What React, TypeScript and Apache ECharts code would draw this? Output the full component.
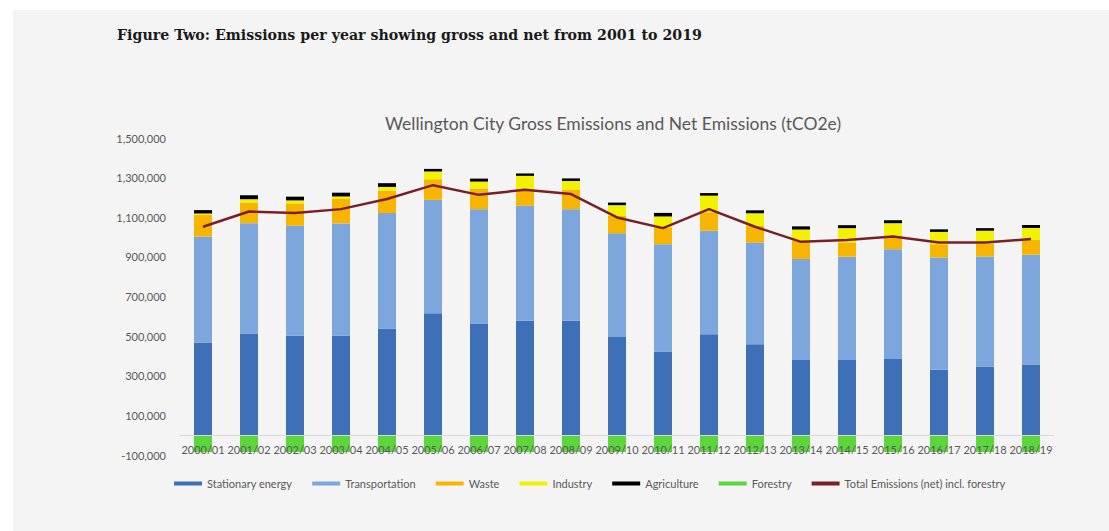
import React, { useEffect, useRef } from "react";
import * as echarts from "echarts";

const categories = ["2000/01", "2001/02", "2002/03", "2003/04", "2004/05", "2005/06", "2006/07", "2007/08", "2008/09", "2009/10", "2010/11", "2011/12", "2012/13", "2013/14", "2014/15", "2015/16", "2016/17", "2017/18", "2018/19"];
const stationary = [468000, 513000, 502000, 502000, 539000, 616000, 564000, 577000, 577000, 496000, 422000, 510000, 459000, 379000, 379000, 384000, 330000, 347000, 357000];
const transportation = [535000, 557000, 555000, 567000, 582000, 572000, 577000, 581000, 564000, 523000, 542000, 522000, 513000, 510000, 522000, 555000, 567000, 555000, 554000];
const waste = [108000, 104000, 113000, 123000, 113000, 104000, 104000, 84000, 98000, 88000, 84000, 93000, 84000, 93000, 72000, 67000, 67000, 66000, 74000];
const industry = [8000, 17000, 15000, 13000, 19000, 39000, 35000, 67000, 44000, 54000, 56000, 84000, 64000, 56000, 72000, 64000, 62000, 64000, 61000];
const agriculture = [17000, 20000, 19000, 19000, 19000, 13000, 15000, 12000, 13000, 13000, 18000, 13000, 15000, 16000, 15000, 15000, 13000, 13000, 15000];
const forestry = [-85000, -85000, -85000, -85000, -85000, -85000, -85000, -85000, -85000, -85000, -85000, -85000, -85000, -85000, -85000, -85000, -85000, -85000, -85000];
const netTotal = [1052000, 1129000, 1121000, 1141000, 1192000, 1262000, 1213000, 1239000, 1217000, 1099000, 1045000, 1141000, 1052000, 976000, 985000, 1003000, 973000, 973000, 990000];

const figureTitle = "Figure Two: Emissions per year showing gross and net from 2001 to 2019";
const chartTitle = "Wellington City Gross Emissions and Net Emissions (tCO2e)";

export default function App() {
  const ref = useRef<HTMLDivElement>(null);
  useEffect(() => {
    document.body.style.margin = "0";
    if (!ref.current) return;
    const chart = echarts.init(ref.current, undefined, { renderer: "svg" });
    const labelColor = "#595959";
    const font = "Lato, 'Open Sans', sans-serif";
    const barBase = { type: "bar", stack: "total", barWidth: 18 };
    chart.setOption({
      animation: false,
      backgroundColor: "#f4f4f4",
      graphic: [
        {
          type: "text",
          x: 104,
          y: 25,
          style: {
            text: figureTitle,
            font: "bold 14.2px 'DejaVu Serif', serif",
            fill: "#1a1a1a",
            textAlign: "left",
            textVerticalAlign: "middle",
          },
        },
        {
          type: "text",
          x: 600,
          y: 113,
          style: {
            text: chartTitle,
            font: "17.5px Lato, 'Open Sans', sans-serif",
            fill: "#595959",
            textAlign: "center",
            textVerticalAlign: "middle",
          },
        },
      ],
      grid: { left: 167, right: 55, top: 128, bottom: 76, containLabel: false },
      legend: {
        left: 156,
        top: 463,
        itemWidth: 28,
        itemHeight: 4,
        itemGap: 20,
        icon: "rect",
        textStyle: { color: labelColor, fontSize: 11, fontFamily: font },
        data: [
          "Stationary energy",
          "Transportation",
          "Waste",
          "Industry",
          "Agriculture",
          "Forestry",
          "Total Emissions (net) incl. forestry",
        ],
      },
      xAxis: {
        type: "category",
        data: categories,
        z: 10,
        axisLine: { onZero: true, lineStyle: { color: "#d9d9d9", width: 1 } },
        axisTick: { show: false },
        axisLabel: { interval: 0, color: labelColor, fontSize: 11, fontFamily: font, margin: -11 },
        splitLine: { show: false },
      },
      yAxis: {
        type: "value",
        min: -100000,
        max: 1500000,
        interval: 100000,
        axisLine: { show: false },
        axisTick: { show: false },
        splitLine: { show: false },
        axisLabel: {
          color: labelColor,
          fontSize: 11,
          fontFamily: font,
          margin: 14,
          formatter: (v: number) =>
            Math.round(v / 100000) % 2 !== 0 ? v.toLocaleString("en-US") : "",
        },
      },
      series: [
        { ...barBase, name: "Stationary energy", data: stationary, itemStyle: { color: "#3d70b7" } },
        { ...barBase, name: "Transportation", data: transportation, itemStyle: { color: "#7ca6dc" } },
        { ...barBase, name: "Waste", data: waste, itemStyle: { color: "#f7b500" } },
        { ...barBase, name: "Industry", data: industry, itemStyle: { color: "#f2f200" } },
        { ...barBase, name: "Agriculture", data: agriculture, itemStyle: { color: "#000000" } },
        { ...barBase, name: "Forestry", data: forestry, itemStyle: { color: "#5cd63c" } },
        {
          type: "line",
          name: "Total Emissions (net) incl. forestry",
          data: netTotal,
          showSymbol: false,
          symbol: "none",
          lineStyle: { color: "#7a1f26", width: 2.5 },
          itemStyle: { color: "#7a1f26" },
          z: 5,
        },
      ],
    });
    return () => chart.dispose();
  }, []);
  return (
    <div style={{ width: 1109, height: 531, background: "#ffffff", overflow: "hidden" }}>
      <div ref={ref} style={{ marginLeft: 13, position: "relative", top: 10, width: 1096, height: 521 }} />
    </div>
  );
}
